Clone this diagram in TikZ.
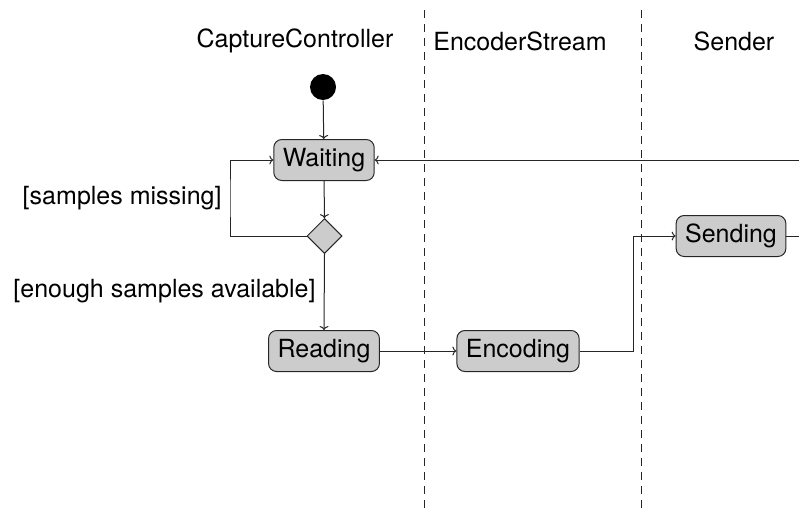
\documentclass[tikz,border=0pt]{standalone}
\usepackage{fontspec}
\setmainfont{TeX Gyre Heros}
\usetikzlibrary{shapes.geometric,arrows.meta}
\begin{document}
\begin{tikzpicture}[x=1pt, y=-1pt, line width=1pt,
  font=\fontsize{25}{30}\selectfont,
  state/.style={draw=black!85, fill=black!20, rounded corners=8pt,
    minimum height=41pt, inner xsep=9pt, inner ysep=0pt},
  choice/.style={draw=black!85, fill=black!20, diamond, minimum size=35pt,
    inner sep=0pt},
  startdot/.style={circle, fill=black, minimum size=26pt, inner sep=0pt},
  flow/.style={-{To[length=4pt,width=9pt]}, black!85},
  lane/.style={dash pattern=on 8pt off 6pt, black!85},
  label/.style={inner sep=0pt}]
  \useasboundingbox (0,0) rectangle (799,509);
  \clip (0,0) rectangle (799,509);

  % swimlane separators
  \coordinate (l1top) at (424,10);
  \coordinate (l1bot) at (424,509);
  \coordinate (l2top) at (641,10);
  \coordinate (l2bot) at (641,509);
  \draw[lane] (l1top) -- (l1bot);
  \draw[lane] (l2top) -- (l2bot);

  % lane headings
  \node[label] (hcap) at (295,41) {CaptureController};
  \node[label] (henc) at (520,41) {EncoderStream};
  \node[label] (hsnd) at (734,41) {Sender};

  % states
  \node[startdot] (start) at (323,87) {};
  \node[state] (waiting) at (324,160) {Waiting};
  \node[choice] (check) at (324.5,236) {};
  \node[state] (reading) at (324,351) {Reading};
  \node[state] (encoding) at (518,351) {Encoding};
  \node[state] (sending) at (731,236) {Sending};

  % guards
  \node[label, anchor=east] (gmiss) at (222,198) {[samples missing]};
  \node[label, anchor=east] (genough) at (316,291) {[enough samples available]};

  % transitions
  \draw[flow] (start) -- (waiting);
  \draw[flow] (waiting) -- (check);
  \draw[flow] (check.west) -| (230,198) |- (waiting.west);
  \draw[flow] (check.south) -- (reading.north);
  \draw[flow] (reading) -- (encoding);
  \draw[flow] (encoding.east) -| (633,293) |- (sending.west);
  \coordinate (outA) at (830,236);
  \coordinate (outB) at (830,160);
  \draw[flow] (sending.east) -- (outA) -- (outB) -- (waiting.east);
\end{tikzpicture}
\end{document}
